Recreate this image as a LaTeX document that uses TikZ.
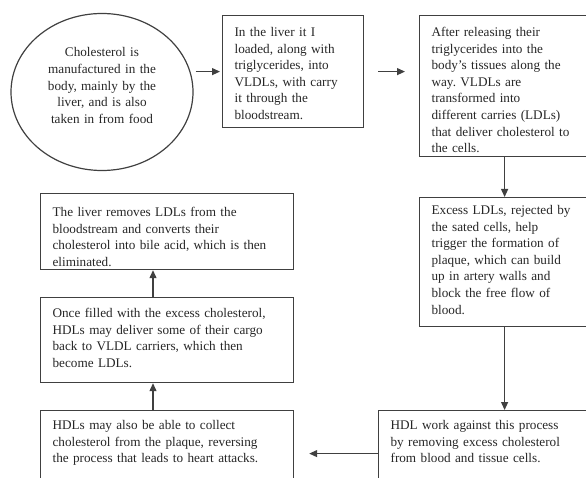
\documentclass[tikz,border=0pt]{standalone}
\usepackage{fontspec}
\setmainfont{Liberation Serif}
\usepackage{tikz}
\usetikzlibrary{arrows.meta,shapes.geometric}
\frenchspacing

\begin{document}
\begin{tikzpicture}[x=1pt,y=-1pt,
  every node/.style={font=\fontsize{13.2}{16.6}\selectfont,text=black!85},
  box/.style={draw=black!75,line width=1.2pt,align=left,anchor=north west,inner xsep=12pt,inner ysep=0pt},
  arr/.style={draw=black!75,line width=1.2pt,-{Triangle[length=8pt,width=7pt]}}]
  \useasboundingbox (0,0) rectangle (586,478);
  \clip (0,0) rectangle (586,478);
  \node[ellipse,draw=black!75,line width=1.2pt,minimum width=182pt,minimum height=157pt,inner sep=0pt,
    text width=125pt,align=center,text height=10pt,text depth=80pt] (chol) at (102,92)
    {Cholesterol is\\ manufactured in the\\ body, mainly by the\\ liver, and is also\\ taken in from food};
  \node[box,text width=117pt,text height=21pt,text depth=91pt] (load) at (222,15)
    {In the liver it I\\ loaded, along with\\ triglycerides, into\\ VLDLs, with carry\\ it through the\\ bloodstream.};
  \node[box,text width=146pt,text height=21pt,text depth=120pt] (ldl) at (419,15)
    {After releasing their\\ triglycerides into the\\ body's tissues along the\\ way. VLDLs are\\ transformed into\\ different carries (LDLs)\\ that deliver cholesterol to\\ the cells.};
  \node[box,text width=146pt,text height=17pt,text depth=112pt] (plaque) at (419,197)
    {Excess LDLs, rejected by\\ the sated cells, help\\ trigger the formation of\\ plaque, which can build\\ up in artery walls and\\ block the free flow of\\ blood.};
  \node[box,text width=196pt,text height=19pt,text depth=67pt] (hdl) at (378,410)
    {HDL work against this process\\ by removing excess cholesterol\\ from blood and tissue cells.};
  \node[box,text width=229pt,text height=19pt,text depth=67pt] (collect) at (40,410)
    {HDLs may also be able to collect\\ cholesterol from the plaque, reversing\\ the process that leads to heart attacks.};
  \node[box,text width=229pt,text height=20pt,text depth=65pt] (cargo) at (40,297)
    {Once filled with the excess cholesterol,\\ HDLs may deliver some of their cargo\\ back to VLDL carriers, which then\\ become LDLs.};
  \node[box,text width=229pt,text height=23pt,text depth=53pt] (bile) at (40,193)
    {The liver removes LDLs from the\\ bloodstream and converts their\\ cholesterol into bile acid, which is then\\ eliminated.};
  \draw[arr,shorten <=2pt,shorten >=2pt] (load.west -| chol.east) -- (load.west);
  \draw[arr,shorten <=14pt,shorten >=14pt] (load.east) -- (load.east -| ldl.west);
  \draw[arr] (ldl.south) -- (plaque.north);
  \draw[arr] (plaque.south) -- (plaque.south |- hdl.north);
  \draw[arr,shorten >=15pt] (hdl.west) -- (collect.east);
  \draw[arr] ([xshift=113pt]collect.north west) -- ([xshift=113pt]cargo.south west);
  \draw[arr] ([xshift=113pt]cargo.north west) -- ([xshift=113pt]bile.south west);
\end{tikzpicture}
\end{document}
